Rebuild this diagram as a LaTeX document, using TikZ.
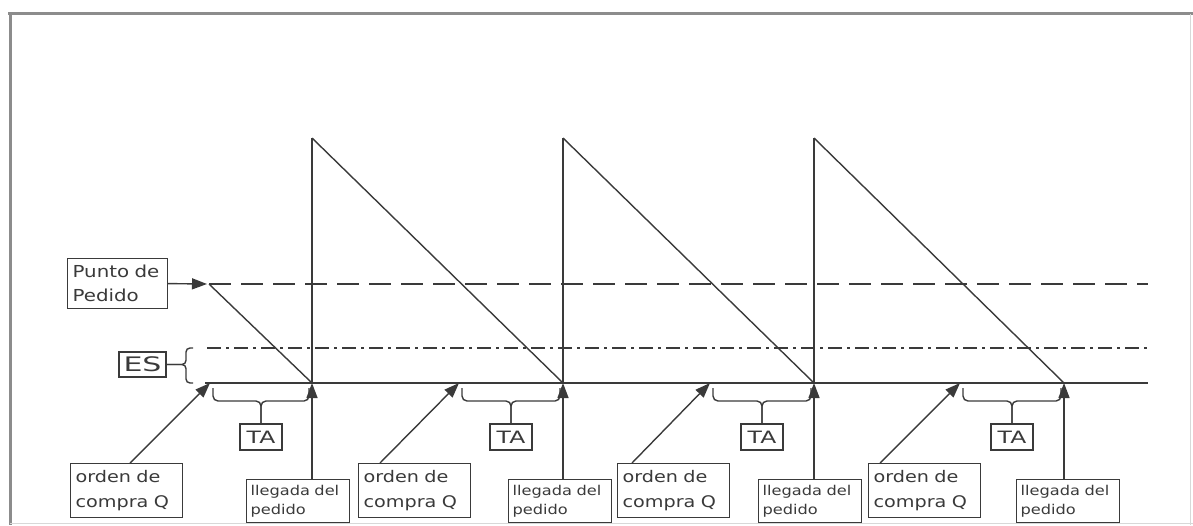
\documentclass[tikz,border=0pt]{standalone}
\usepackage{fontspec}
\setmainfont{DejaVu Sans}[FakeStretch=1.2]
\usetikzlibrary{arrows.meta}
\definecolor{ink}{HTML}{3A3A3A}
\definecolor{framec}{HTML}{8C8C8C}
\definecolor{framel}{HTML}{D8D8D8}
\begin{document}
\begin{tikzpicture}[x=1pt,y=-1pt,
  ln/.style={draw=ink, line width=1.4pt},
  arr/.style={ln, -{Triangle[length=15pt,width=11pt]}},
  box/.style={draw=ink, line width=1.2pt, text=ink, inner xsep=5pt, inner ysep=0pt, align=left, anchor=north west},
  ordenbox/.style={box, minimum width=112pt, text width=102pt, minimum height=54pt, font=\fontsize{16}{25}\selectfont},
  llegbox/.style={box, minimum width=103pt, text width=95pt, inner xsep=4pt, minimum height=43pt, font=\fontsize{13.5}{19}\selectfont},
  tabox/.style={box, anchor=center, inner xsep=0pt, minimum width=42pt, minimum height=26pt, align=center, font=\fontsize{17}{17}\selectfont},
  bracec/.style={ln, rounded corners=5pt}
]
\useasboundingbox (0,0) rectangle (1193,525);
% frame
\draw[framec, line width=2.5pt] (8,13.5) -- (1193,13.5);
\draw[framec, line width=2.5pt] (10.5,12.5) -- (10.5,525);
\draw[framel, line width=1pt] (1190,14) -- (1190,525);
\draw[framel, line width=1pt] (10,523.5) -- (1193,523.5);

% key coordinates
\foreach \i/\px in {1/312,2/563,3/814,4/1064} {
  \coordinate (top\i) at (\px,138);
  \coordinate (bot\i) at (\px,383);
}
\coordinate (dstart) at (209,284);
\coordinate (dend) at (1148,284);
\coordinate (ddstart) at (207,348);
\coordinate (ddend) at (1148,348);
\coordinate (bstart) at (205,383);
\coordinate (bend) at (1148,383);

% reference lines
\draw[ln, dash pattern=on 22pt off 10pt] (dstart) -- (dend);
\draw[ln, line width=1.1pt, dash pattern=on 14pt off 5pt on 3pt off 5pt] (ddstart) -- (ddend);
\draw[ln] (bstart) -- (bend);

% saw-tooth
\draw[ln] (dstart) -- (bot1);
\draw[ln] (top1) -- (bot1);
\draw[ln] (top1) -- (bot2);
\draw[ln] (top2) -- (bot2);
\draw[ln] (top2) -- (bot3);
\draw[ln] (top3) -- (bot3);
\draw[ln] (top3) -- (bot4);

% Punto de pedido
\node[box, minimum width=100pt, text width=90pt, minimum height=50pt, font=\fontsize{16.5}{24}\selectfont] (punto) at (67,258) {Punto de\\Pedido};
\draw[arr] (punto.east) -- (207,284);

% ES
\node[box, anchor=center, inner xsep=0pt, minimum width=47pt, minimum height=25pt, align=center, font=\fontsize{20}{20}\selectfont] (es) at (142.5,364.5) {\scalebox{1.25}[1]{ES}};
\coordinate (esa) at (193,348);
\coordinate (esb) at (193,383);
\draw[ln, rounded corners=4pt] (esa) -- (186,348) -- (186,364.5) -- (es.east);
\draw[ln, rounded corners=4pt] (esb) -- (186,383) -- (186,364.5) -- (es.east);

% orden de compra boxes and arrows
\foreach \i/\bx/\tx/\ax in {1/70/130/210, 2/358/380/459, 3/617/632/710, 4/868/880/960} {
  \node[ordenbox] (o\i) at (\bx,463) {orden de\\compra Q};
  \coordinate (ot\i) at (\ax,383);
  \draw[arr] (\tx,463) -- (ot\i);
}

% llegada del pedido boxes and arrows
\foreach \i/\bx in {1/246, 2/508, 3/758, 4/1016} {
  \node[llegbox] (l\i) at (\bx,479) {llegada del\\pedido};
  \draw[arr] (l\i.north -| bot\i) -- (bot\i);
}

% TA braces
\foreach \i/\xa/\xb in {1/213/309, 2/462/560, 3/713/811, 4/963/1061} {
  \pgfmathsetmacro{\xm}{(\xa+\xb)/2}
  \node[tabox] (ta\i) at (\xm,437) {\scalebox{1.15}[1]{TA}};
  \draw[bracec] (\xa,388) -- (\xa,401) -- (\xm,401) -- (ta\i.north);
  \draw[bracec] (\xb,388) -- (\xb,401) -- (\xm,401) -- (ta\i.north);
}
\end{tikzpicture}
\end{document}
